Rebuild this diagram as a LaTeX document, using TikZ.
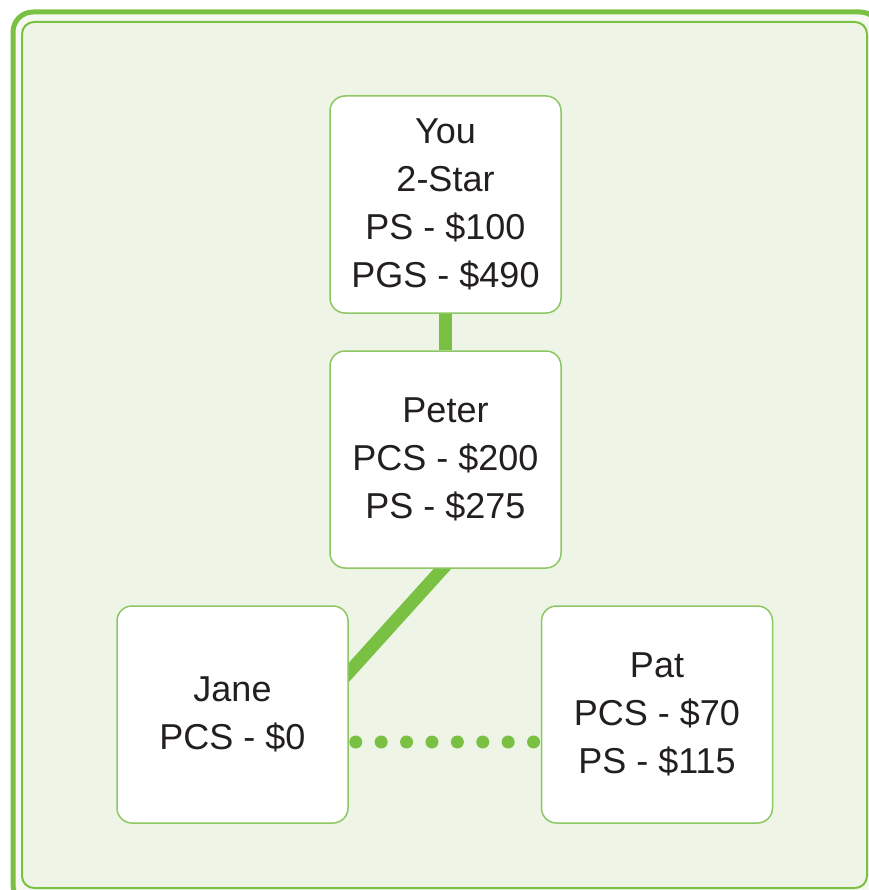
\documentclass[tikz,border=0pt]{standalone}
\usepackage{fontspec}
\setmainfont{Liberation Sans}
\usetikzlibrary{calc}
\definecolor{gr}{HTML}{7AC143}
\definecolor{grlight}{HTML}{8DC763}
\definecolor{panel}{HTML}{EEF4E6}
\definecolor{gap}{HTML}{F6F9F2}
\definecolor{txt}{HTML}{231F20}
\pgfdeclarelayer{framelayer}
\pgfdeclarelayer{connlayer}
\pgfsetlayers{framelayer,connlayer,main}
\tikzset{
  person/.style={draw=grlight, line width=1.5pt, fill=white, rounded corners=15pt,
    minimum width=231pt, minimum height=217pt, inner sep=0pt, align=center,
    text=txt, font=\fontsize{36}{48}\selectfont},
  conn/.style={draw=gr, line width=13pt},
  dotline/.style={draw=gr, line width=13pt, line cap=round, dash pattern=on 0pt off 25.4pt}
}
\begin{document}
\begin{tikzpicture}[x=1pt,y=-1pt]
\useasboundingbox (0,0) rectangle (868,890);
\clip (0,0) rectangle (868,890);
\begin{pgfonlayer}{framelayer}
  \fill[white] (0,0) rectangle (868,890);
  \draw[gr, line width=5pt, fill=gap, rounded corners=20pt] (13,12) rectangle (880,905);
  \draw[gr, line width=2pt, fill=panel, rounded corners=12pt] (22,22) rectangle (867,888);
\end{pgfonlayer}
\node[person] (you) at (445.5,204.5) {You\\2-Star\\PS - \$100\\PGS - \$490};
\node[person] (peter) at (445.5,459.5) {Peter\\PCS - \$200\\PS - \$275};
\node[person] (jane) at (232.5,714.5) {Jane\\PCS - \$0};
\node[person] (pat) at (657,714.5) {Pat\\PCS - \$70\\PS - \$115};
\begin{pgfonlayer}{connlayer}
  \draw[conn] (you.south) -- (peter.north);
  \draw[conn] ($(peter.south)+(1.5,-5)$) -- ($(jane.east)+(-5,-36.5)$);
\end{pgfonlayer}
\draw[dotline] ($(jane.east)+(7,27.5)$) -- ($(pat.west)+(-6.5,27.5)$);
\end{tikzpicture}
\end{document}
